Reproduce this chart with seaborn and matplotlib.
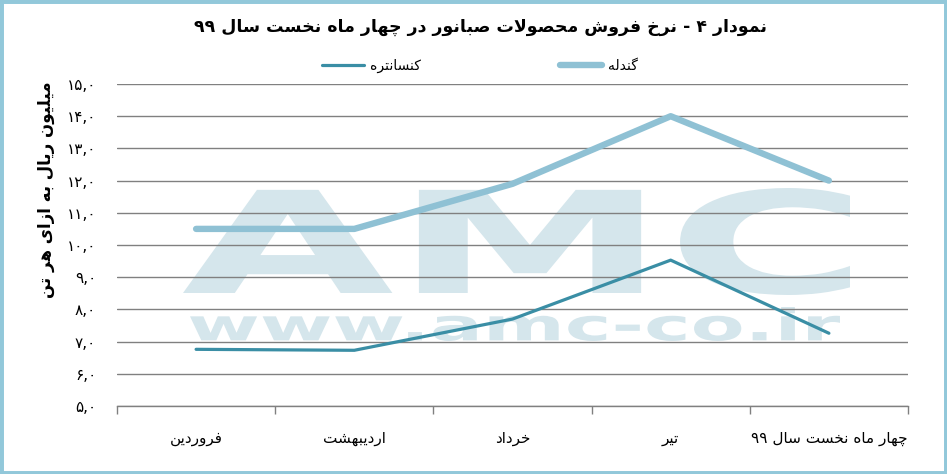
import re
import pandas as pd
import matplotlib
matplotlib.use("Agg")
import matplotlib.pyplot as plt
import matplotlib.transforms as mtransforms
from matplotlib.textpath import TextPath
from matplotlib.font_manager import FontProperties
from matplotlib.patches import PathPatch, Rectangle
import seaborn as sns

# data
months = ["فروردین", "اردیبهشت", "خرداد", "تیر", "چهار ماه نخست سال ۹۹"]
pellet = [10.5, 10.5, 11.9, 14.0, 12.0]        # گندله
concentrate = [6.76, 6.73, 7.7, 9.53, 7.26]     # کنسانتره
series_names = ["کنسانتره", "گندله"]
y_ticks = [5, 6, 7, 8, 9, 10, 11, 12, 13, 14, 15]

title = "نمودار ۴ - نرخ فروش محصولات صبانور در چهار ماه نخست سال ۹۹"
y_label = "میلیون ریال به ازای هر تن"

# --- tiny Persian shaper (no arabic_reshaper available) ---
FORMS = {
    "ا": ("\uFE8D", "\uFE8E", None, None),
    "آ": ("\uFE81", "\uFE82", None, None),
    "ب": ("\uFE8F", "\uFE90", "\uFE91", "\uFE92"),
    "پ": ("\uFB56", "\uFB57", "\uFB58", "\uFB59"),
    "ت": ("\uFE95", "\uFE96", "\uFE97", "\uFE98"),
    "ث": ("\uFE99", "\uFE9A", "\uFE9B", "\uFE9C"),
    "ج": ("\uFE9D", "\uFE9E", "\uFE9F", "\uFEA0"),
    "چ": ("\uFB7A", "\uFB7B", "\uFB7C", "\uFB7D"),
    "ح": ("\uFEA1", "\uFEA2", "\uFEA3", "\uFEA4"),
    "خ": ("\uFEA5", "\uFEA6", "\uFEA7", "\uFEA8"),
    "د": ("\uFEA9", "\uFEAA", None, None),
    "ذ": ("\uFEAB", "\uFEAC", None, None),
    "ر": ("\uFEAD", "\uFEAE", None, None),
    "ز": ("\uFEAF", "\uFEB0", None, None),
    "ژ": ("\uFB8A", "\uFB8B", None, None),
    "س": ("\uFEB1", "\uFEB2", "\uFEB3", "\uFEB4"),
    "ش": ("\uFEB5", "\uFEB6", "\uFEB7", "\uFEB8"),
    "ص": ("\uFEB9", "\uFEBA", "\uFEBB", "\uFEBC"),
    "ض": ("\uFEBD", "\uFEBE", "\uFEBF", "\uFEC0"),
    "ط": ("\uFEC1", "\uFEC2", "\uFEC3", "\uFEC4"),
    "ظ": ("\uFEC5", "\uFEC6", "\uFEC7", "\uFEC8"),
    "ع": ("\uFEC9", "\uFECA", "\uFECB", "\uFECC"),
    "غ": ("\uFECD", "\uFECE", "\uFECF", "\uFED0"),
    "ف": ("\uFED1", "\uFED2", "\uFED3", "\uFED4"),
    "ق": ("\uFED5", "\uFED6", "\uFED7", "\uFED8"),
    "ک": ("\uFB8E", "\uFB8F", "\uFB90", "\uFB91"),
    "گ": ("\uFB92", "\uFB93", "\uFB94", "\uFB95"),
    "ل": ("\uFEDD", "\uFEDE", "\uFEDF", "\uFEE0"),
    "م": ("\uFEE1", "\uFEE2", "\uFEE3", "\uFEE4"),
    "ن": ("\uFEE5", "\uFEE6", "\uFEE7", "\uFEE8"),
    "ه": ("\uFEE9", "\uFEEA", "\uFEEB", "\uFEEC"),
    "و": ("\uFEED", "\uFEEE", None, None),
    "ی": ("\uFBFC", "\uFBFD", "\uFBFE", "\uFBFF"),
}


def joins_forward(ch):
    return ch in FORMS and FORMS[ch][2] is not None


def fa(text):
    out = []
    i = 0
    n = len(text)
    while i < n:
        ch = text[i]
        prev = text[i - 1] if i > 0 else ""
        nxt = text[i + 1] if i + 1 < n else ""
        if ch not in FORMS:
            out.append(ch)
            i += 1
            continue
        jp = joins_forward(prev)
        if ch == "ل" and nxt == "ا":
            out.append("\uFEFC" if jp else "\uFEFB")
            i += 2
            continue
        jn = joins_forward(ch) and nxt in FORMS
        iso, fin, ini, med = FORMS[ch]
        if jp and jn:
            out.append(med)
        elif jp:
            out.append(fin)
        elif jn:
            out.append(ini)
        else:
            out.append(iso)
        i += 1
    vis = "".join(out)[::-1]
    # keep number runs left-to-right
    return re.sub(r"[0-9۰-۹,.]+", lambda m: m.group(0)[::-1], vis)


def fa_num(v):
    s = "%.1f" % v
    return s.translate(str.maketrans("0123456789.", "۰۱۲۳۴۵۶۷۸۹,"))


month_labels = [fa(m) for m in months]
name_labels = [fa(s) for s in series_names]

df = pd.DataFrame({
    "month": month_labels * 2,
    "value": concentrate + pellet,
    "product": [name_labels[0]] * len(months) + [name_labels[1]] * len(months),
})

sns.set_style("white")
plt.rcParams["font.family"] = ["DejaVu Sans"]
plt.rcParams["text.color"] = "black"
plt.rcParams["xtick.color"] = "black"
plt.rcParams["ytick.color"] = "black"
plt.rcParams["axes.labelcolor"] = "black"

fig = plt.figure(figsize=(9.47, 4.74), dpi=100)
ax = fig.add_axes([117 / 947, 1 - 406 / 474, (908 - 117) / 947, (406 - 84) / 474])

palette = {name_labels[0]: "#3a8ea5", name_labels[1]: "#8fc1d4"}
sizes = {name_labels[0]: 2.3, name_labels[1]: 4.6}
sns.lineplot(data=df, x="month", y="value", hue="product", size="product",
             hue_order=name_labels, size_order=name_labels,
             palette=palette, sizes=sizes, sort=False, ax=ax, zorder=3)
for line in ax.lines:
    line.set_solid_capstyle("round")

# watermark behind the grid
wm_color = "#d5e6ec"
fp = FontProperties(family="DejaVu Sans", weight="bold")


def watermark(txt, x0, x1, ytop, ybot):
    path = TextPath((0, 0), txt, size=100, prop=fp)
    ext = path.get_extents()
    fx0, fx1 = x0 / 947, x1 / 947
    fy0, fy1 = 1 - ybot / 474, 1 - ytop / 474
    tr = (mtransforms.Affine2D()
          .translate(-ext.x0, -ext.y0)
          .scale((fx1 - fx0) / ext.width, (fy1 - fy0) / ext.height)
          .translate(fx0, fy0))
    patch = PathPatch(tr.transform_path(path), facecolor=wm_color,
                      edgecolor="none", transform=fig.transFigure, zorder=0.1)
    ax.add_patch(patch)


watermark("AMC", 183, 850, 188, 295)
watermark("www.amc-co.ir", 190, 840, 307, 341)

ax.set_xlim(-0.5, len(months) - 0.5)
ax.set_ylim(5, 15)
ax.set_yticks(y_ticks)
ax.set_yticklabels([fa_num(v) for v in y_ticks], fontsize=11)
ax.set_xticks(range(len(months)))
ax.set_xticklabels(month_labels, fontsize=11)
ax.set_xticks([i - 0.5 for i in range(len(months) + 1)], minor=True)
ax.tick_params(axis="x", which="major", bottom=False, length=0, pad=18)
ax.tick_params(axis="x", which="minor", bottom=True, direction="out",
               length=6, color="#808080", width=1)
ax.tick_params(axis="y", left=False, length=0, pad=15)
ax.set_axisbelow(True)
ax.yaxis.grid(True, color="#808080", linewidth=1)
ax.xaxis.grid(False)
for side in ["top", "right", "left"]:
    ax.spines[side].set_visible(False)
ax.spines["bottom"].set_color("#808080")
ax.spines["bottom"].set_linewidth(1)
ax.set_xlabel("")
ax.set_ylabel(fa(y_label), fontsize=12, fontweight="bold")
ax.yaxis.set_label_coords((55 - 117) / 791, (406 - 190) / 322)

sns.move_legend(ax, "center", bbox_to_anchor=(480 / 947, 1 - 66 / 474),
                bbox_transform=fig.transFigure, ncol=2, frameon=False,
                title=None, fontsize=10, handlelength=3.0, columnspacing=10,
                handletextpad=0.45)

fig.text(480 / 947, 1 - 27 / 474, fa(title), ha="center", va="center",
         fontsize=12.5, fontweight="bold", color="black")

fig.patches.append(Rectangle((0, 0), 1, 1, transform=fig.transFigure,
                             fill=False, edgecolor="#92c8da", linewidth=5))

fig.savefig("out.png", dpi=100)
